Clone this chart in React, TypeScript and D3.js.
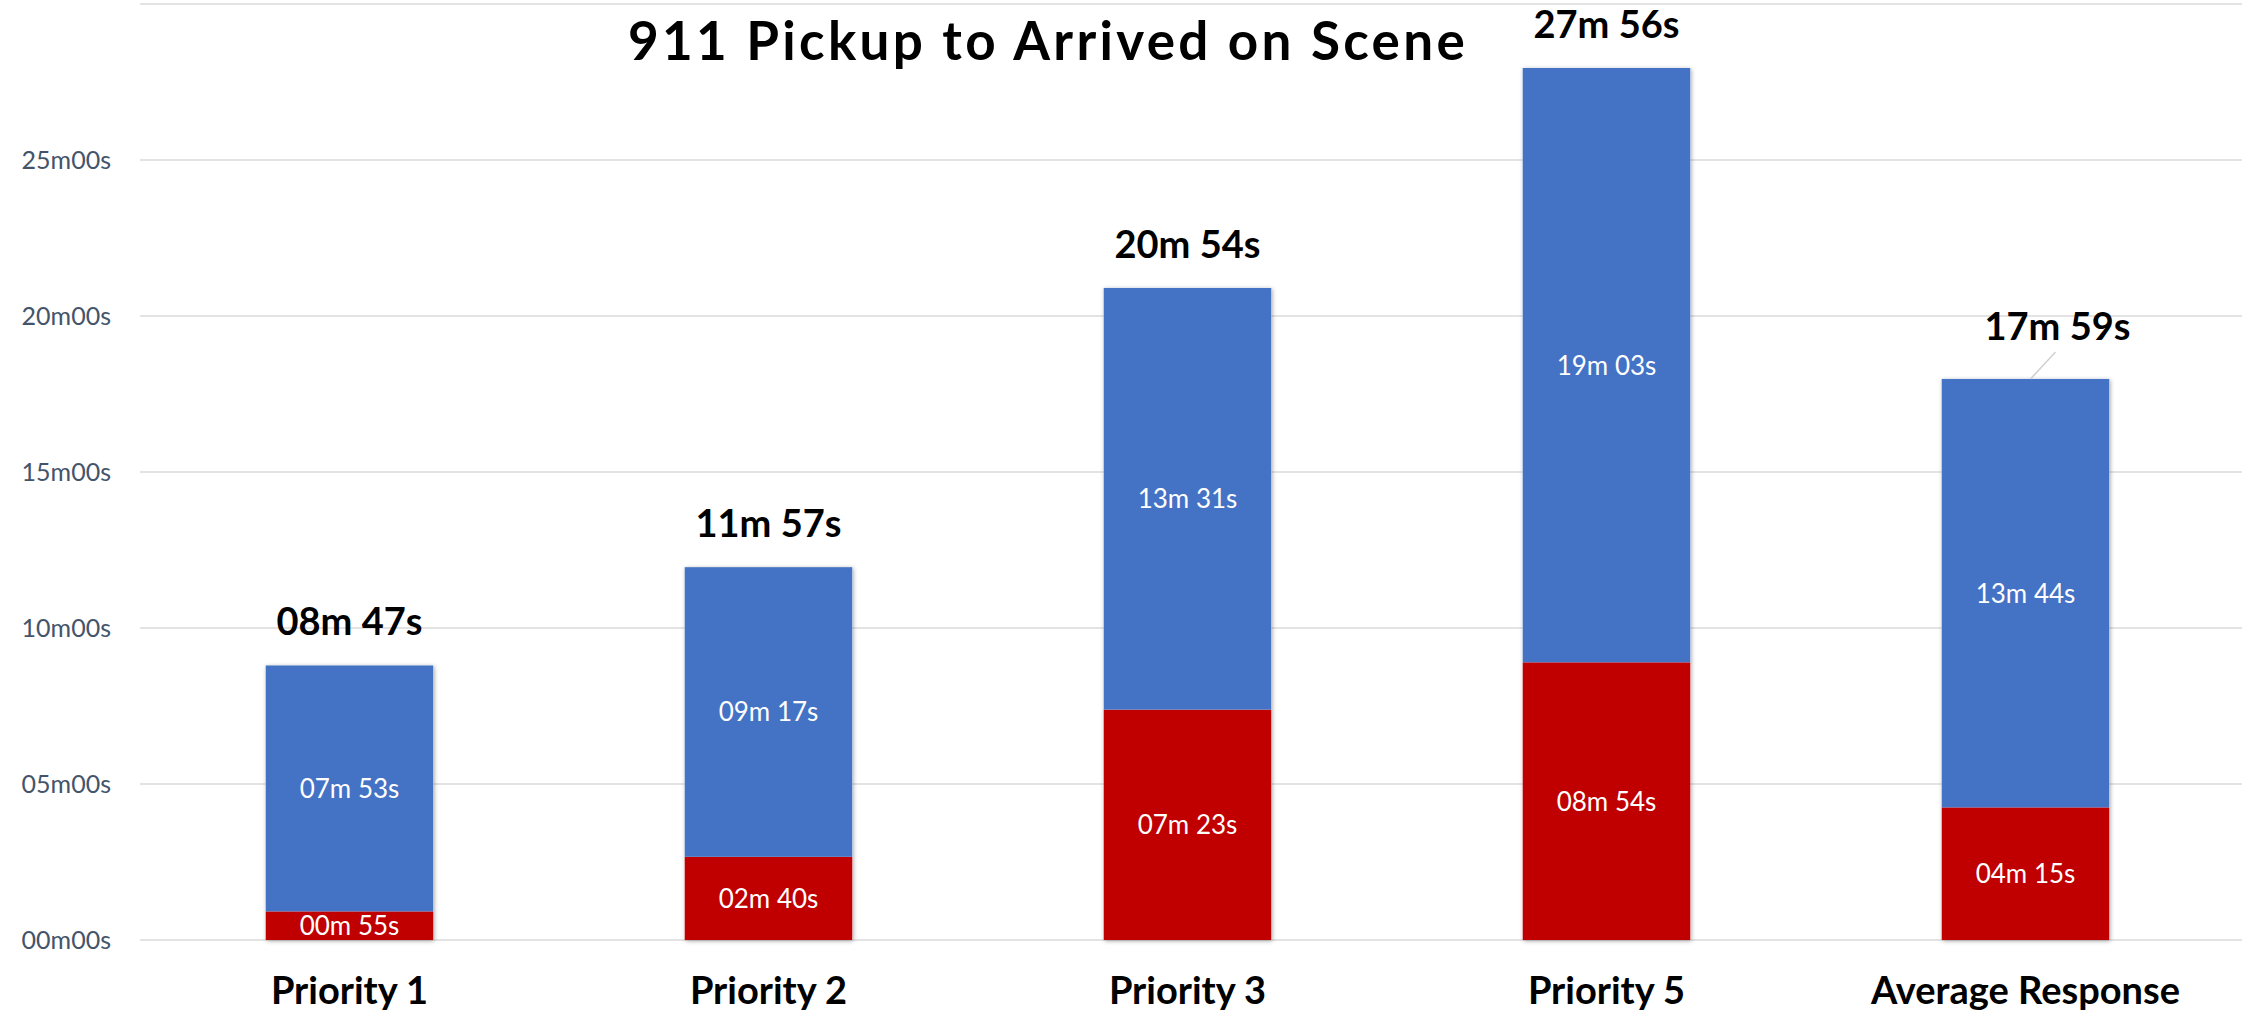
import React from "react";
import * as d3 from "d3";

const categories = ["Priority 1", "Priority 2", "Priority 3", "Priority 5", "Average Response"];
// seconds
const dispatchSec = [55, 160, 443, 534, 255]; // red (bottom)
const travelSec = [473, 557, 811, 1143, 824]; // blue (top)
const totalSec = [527, 717, 1254, 1676, 1079];
const yTickSec = [0, 300, 600, 900, 1200, 1500, 1800];
const title = "911 Pickup to Arrived on Scene";

const W = 2242;
const H = 1014;
const FONT = "Lato, 'Open Sans', sans-serif";

const pad2 = (n: number) => String(n).padStart(2, "0");
const fmtLabel = (s: number) => `${pad2(Math.floor(s / 60))}m ${pad2(s % 60)}s`;
const fmtTick = (s: number) => `${pad2(Math.floor(s / 60))}m${pad2(s % 60)}s`;

export default function App() {
  const x = d3.scaleBand<string>().domain(categories).range([140, 2235]).paddingInner(0.6).paddingOuter(0.3);
  const y = d3.scaleLinear().domain([0, 1800]).range([940, 4]);

  const rows = categories.map((c, i) => ({
    c,
    red: dispatchSec[i],
    blue: travelSec[i],
    total: totalSec[i],
  }));
  const stack = d3.stack<any>().keys(["red", "blue"])(rows as any);
  const colors: Record<string, string> = { red: "#C00000", blue: "#4472C4" };
  const bw = x.bandwidth();

  return (
    <svg width={W} height={H} style={{ position: "absolute", left: 0, top: 0, background: "#fff" }} fontFamily={FONT}>
      <defs>
        <filter id="sh" x="-10%" y="-10%" width="120%" height="120%">
          <feDropShadow dx="1" dy="1" stdDeviation="2" floodColor="#000" floodOpacity="0.35" />
        </filter>
      </defs>
      {yTickSec.map((t) => (
        <g key={t}>
          <line x1={140} x2={W} y1={y(t)} y2={y(t)} stroke="#E3E3E3" strokeWidth={2} />
          {t < 1800 && (
            <text x={111} y={y(t)} dy="0.35em" textAnchor="end" fontSize={25} fill="#44546A">
              {fmtTick(t)}
            </text>
          )}
        </g>
      ))}
      <text x={1048} y={60} textAnchor="middle" fontSize={53} fontWeight={700} letterSpacing={3.3} fill="#000">
        {title}
      </text>
      {rows.map((r) => (
        <rect key={"s" + r.c} x={x(r.c)!} width={bw} y={y(r.red + r.blue)} height={y(0) - y(r.red + r.blue)} fill="#fff" filter="url(#sh)" />
      ))}
      {stack.map((layer) => (
        <g key={layer.key}>
          {layer.map((d: any, i: number) => {
            const c = categories[i];
            const y0 = y(d[0]);
            const y1 = y(d[1]);
            const v = d[1] - d[0];
            return (
              <g key={c}>
                <rect x={x(c)!} width={bw} y={y1} height={y0 - y1} fill={colors[layer.key]} />
                <text x={x(c)! + bw / 2} y={(y0 + y1) / 2} dy="0.36em" textAnchor="middle" fontSize={26} fill="#fff">
                  {fmtLabel(v)}
                </text>
              </g>
            );
          })}
        </g>
      ))}
      {rows.map((r, i) => {
        const cx = x(r.c)! + bw / 2;
        const top = y(r.red + r.blue);
        const isLast = i === rows.length - 1;
        const lx = isLast ? cx + 32 : cx;
        const ly = isLast ? top - 53 : top - 44;
        return (
          <g key={"t" + r.c}>
            {isLast && <line x1={cx + 30} y1={top - 27} x2={cx + 5} y2={top} stroke="#D0D0D0" strokeWidth={1.5} />}
            <text x={lx} y={ly} dy="0.36em" textAnchor="middle" fontSize={38} fontWeight={700} fill="#000">
              {fmtLabel(r.total)}
            </text>
          </g>
        );
      })}
      {categories.map((c) => (
        <text key={"x" + c} x={x(c)! + bw / 2} y={1004} textAnchor="middle" fontSize={38} fontWeight={700} fill="#000">
          {c}
        </text>
      ))}
    </svg>
  );
}
